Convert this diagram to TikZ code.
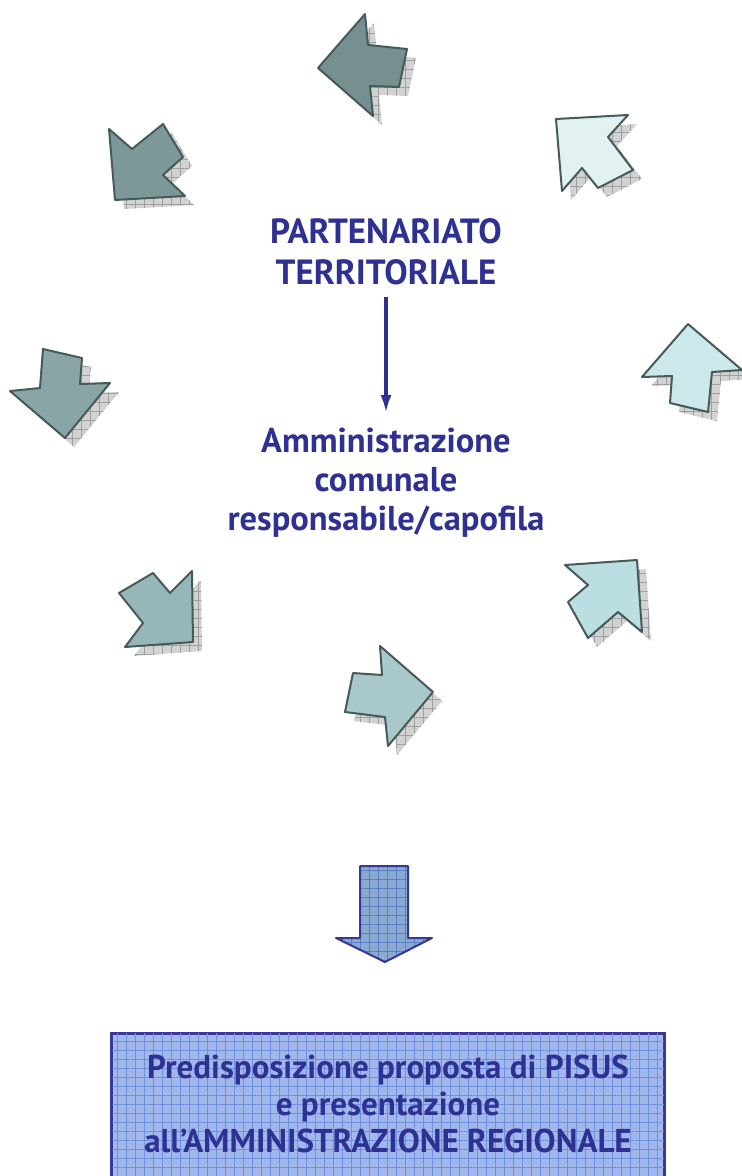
\documentclass[tikz,border=0pt]{standalone}
\usepackage{fontspec}
\setmainfont{PT Sans}
\usetikzlibrary{patterns.meta,positioning,arrows.meta}

\definecolor{textblue}{RGB}{46,49,146}
\definecolor{edgeslate}{RGB}{70,90,90}
\definecolor{shadowgrey}{RGB}{210,210,210}
\definecolor{boxblue}{RGB}{162,184,236}
\definecolor{boxgrid}{RGB}{110,145,222}
\definecolor{boxedge}{RGB}{55,55,150}
\definecolor{downblue}{RGB}{138,170,210}
\definecolor{downgrid}{RGB}{90,128,195}
\definecolor{tealA}{RGB}{226,242,242}
\definecolor{tealB}{RGB}{205,232,235}
\definecolor{tealC}{RGB}{186,222,226}
\definecolor{tealD}{RGB}{168,200,202}
\definecolor{tealE}{RGB}{150,182,184}
\definecolor{tealF}{RGB}{137,165,165}
\definecolor{tealG}{RGB}{125,152,152}
\definecolor{tealH}{RGB}{118,143,143}

\tikzset{
  bluetext/.style={text=textblue,font=\bfseries\fontsize{35}{41}\selectfont,align=center,inner sep=0pt},
  arrowedge/.style={draw=edgeslate,line width=2pt,line join=round},
  thinarrow/.style={textblue,line width=3.5pt,-{Latex[length=18pt,width=11pt]}},
  gridhatch/.style={pattern={Hatch[angle=0,distance=9pt,line width=0.7pt]},pattern color=#1},
}

% one block arrow of the ring, with its hatched shadow
\newcommand{\ringarrow}[2]{%
  \fill[shadowgrey,shift={(9,9)}] #2 -- cycle;
  \fill[gridhatch=gray!75,shift={(9,9)}] #2 -- cycle;
  \draw[arrowedge,fill=#1] #2 -- cycle;}

\begin{document}
\begin{tikzpicture}[x=1pt,y=-1pt]
\useasboundingbox (0,0) rectangle (742,1176);
\clip (0,0) rectangle (742,1176);

\ringarrow{tealH}{(318,68) -- (365,14) -- (368,45) -- (407,49) -- (399,87) -- (370,86) -- (373,116)}
\ringarrow{tealA}{(556,119) -- (628,115) -- (608,137) -- (633,170) -- (598,188) -- (582,168) -- (562,191)}
\ringarrow{tealB}{(688,324) -- (742,370) -- (712,372) -- (708,412) -- (670,403) -- (672,376) -- (642,377)}
\ringarrow{tealC}{(637,560) -- (642,632) -- (618,612) -- (588,638) -- (568,602) -- (588,585) -- (565,565)}
\ringarrow{tealD}{(433,692) -- (388,746) -- (385,717) -- (345,712) -- (353,673) -- (382,675) -- (380,646)}
\ringarrow{tealE}{(193,642) -- (125,647) -- (143,623) -- (119,593) -- (153,573) -- (170,593) -- (192,571)}
\ringarrow{tealF}{(65,438) -- (10,391) -- (40,388) -- (43,349) -- (82,358) -- (80,384) -- (110,383)}
\ringarrow{tealG}{(115,200) -- (109,129) -- (132,149) -- (163,124) -- (183,157) -- (163,175) -- (185,196)}

\node[bluetext] (partner) at (386,252) {PARTENARIATO\\TERRITORIALE};
\node[bluetext,font=\bfseries\fontsize{34.5}{39}\selectfont] (comune) at (386,483) {Amministrazione\\comunale\\responsabile/capofila};
\draw[thinarrow,shorten <=12pt,shorten >=15pt] (partner) -- (comune);

% big arrow down to the box
\fill[downblue] (360,866) -- (408,866) -- (408,938) -- (432,938) -- (385,962) -- (336,938) -- (360,938) -- cycle;
\fill[gridhatch=downgrid] (360,866) -- (408,866) -- (408,938) -- (432,938) -- (385,962) -- (336,938) -- (360,938) -- cycle;
\draw[boxedge,line width=2pt,line join=round] (360,866) -- (408,866) -- (408,938) -- (432,938) -- (385,962) -- (336,938) -- (360,938) -- cycle;

\node[draw=boxedge,line width=3pt,fill=boxblue,minimum width=553pt,minimum height=150pt] (pisus) at (388,1108) {};
\fill[gridhatch=boxgrid] ([xshift=2pt,yshift=-2pt]pisus.north west) rectangle ([xshift=-2pt,yshift=2pt]pisus.south east);
\node[bluetext,font=\bfseries\fontsize{33}{37}\selectfont] (pisustext) at (388,1104) {Predisposizione proposta di PISUS\\e presentazione\\all’AMMINISTRAZIONE REGIONALE};
\end{tikzpicture}
\end{document}
